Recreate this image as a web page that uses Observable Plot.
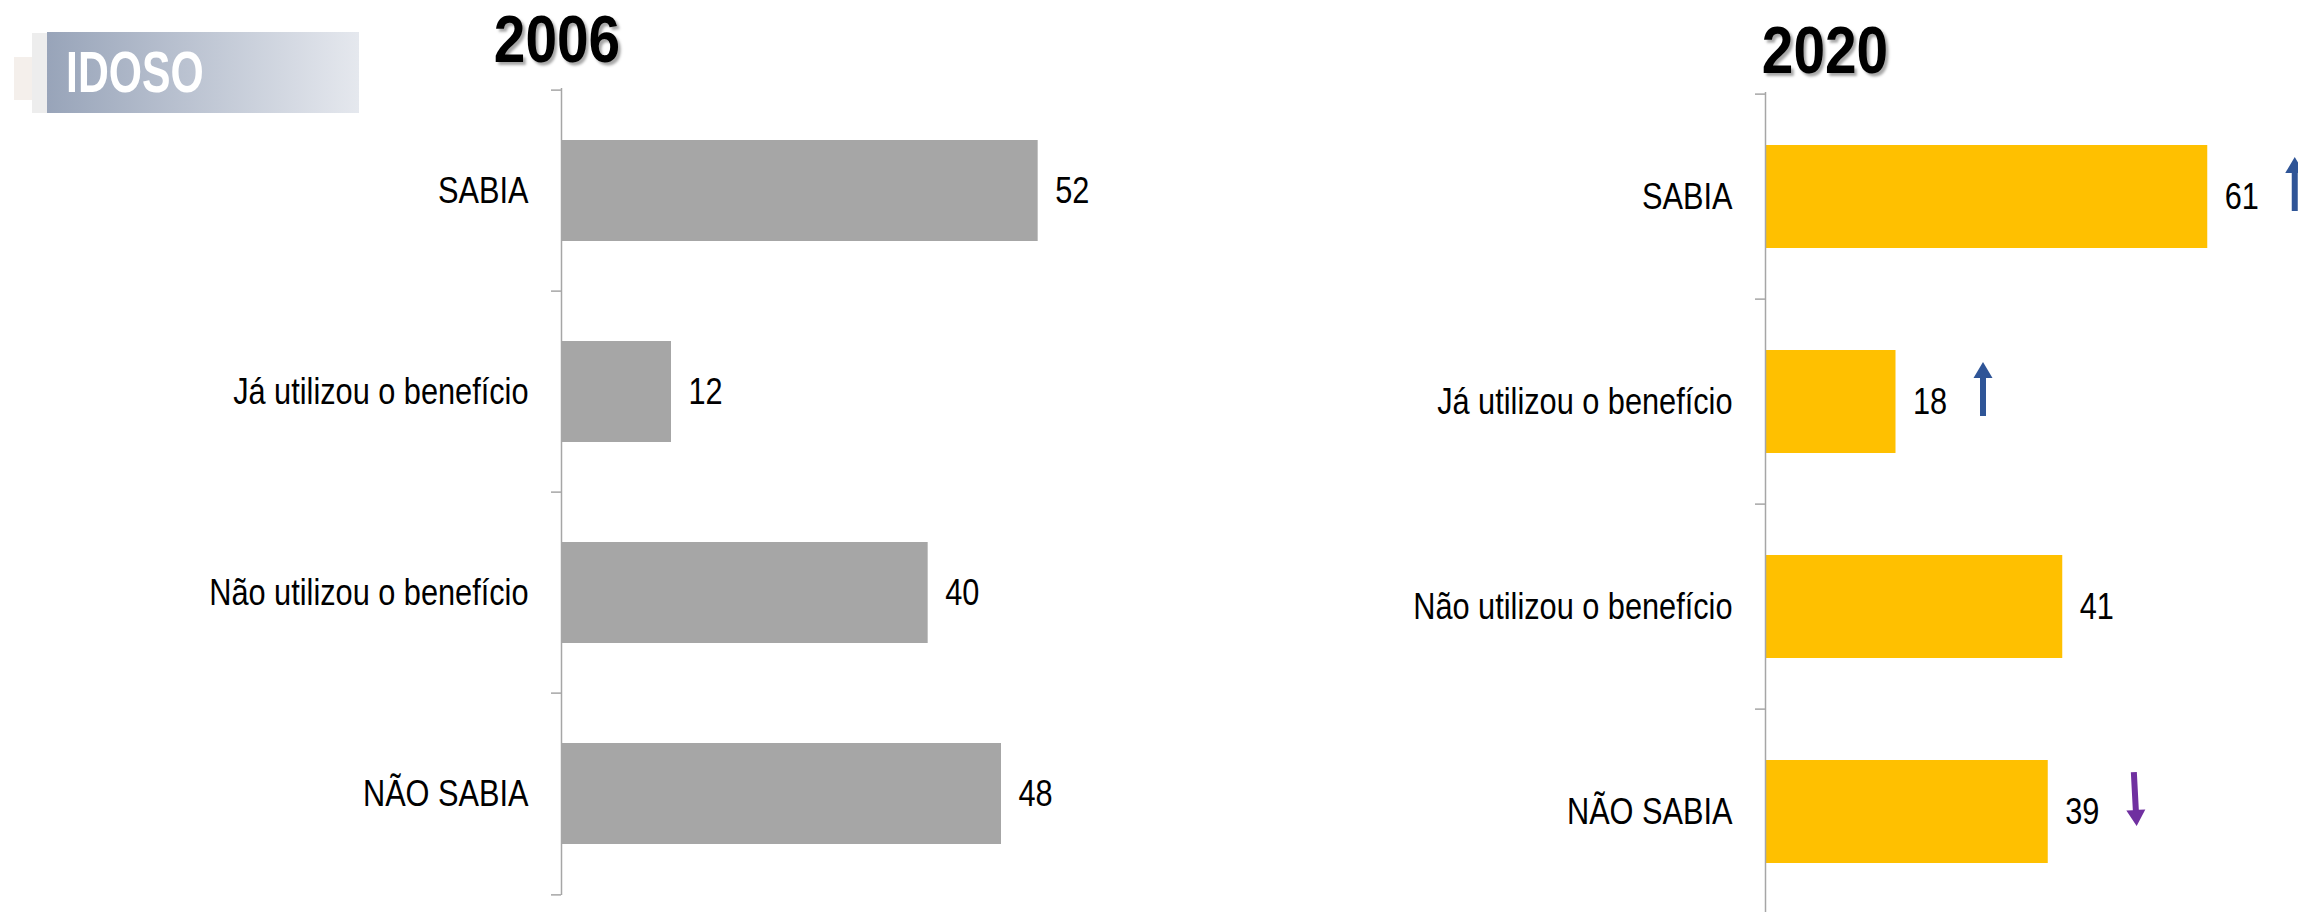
<!DOCTYPE html>
<html>
<head>
<meta charset="utf-8">
<script src="https://cdn.jsdelivr.net/npm/d3@7"></script>
<script src="https://cdn.jsdelivr.net/npm/@observablehq/plot@0.6"></script>
<style>
  html, body { margin: 0; padding: 0; background: #fff; width: 2298px; height: 912px; overflow: hidden; }
  #page { position: relative; width: 2298px; height: 912px; overflow: hidden; }
  .sans { font-family: "Liberation Sans", Arial, sans-serif; }
  .year { position: absolute; font-weight: bold; font-size: 66px; line-height: 66px; color: #000;
          text-shadow: 3px 3px 3px rgba(0,0,0,0.35); transform: translateX(-50%) scaleX(0.86); white-space: nowrap; }
  #badge { position: absolute; left: 47px; top: 32px; width: 312px; height: 81px;
           background: linear-gradient(to right, #98A4B9, #E5E8EE); display: flex; align-items: center; }
  #badge span { color: #fff; font-weight: bold; font-size: 57px; margin-left: 19px; line-height: 1;
                display: inline-block; transform: scaleX(0.75); transform-origin: left center; }
  #deco1 { position: absolute; left: 14px; top: 57px; width: 33px; height: 43px; background: #F4EFEB; }
  #deco2 { position: absolute; left: 32px; top: 33px; width: 15px; height: 80px; background: #EDEDED; }
  .chart { position: absolute; top: 0; }
</style>
</head>
<body>
<div id="page">
  <div id="deco1"></div>
  <div id="deco2"></div>
  <div id="badge" class="sans"><span>IDOSO</span></div>
  <div id="t1" class="year sans"></div>
  <div id="t2" class="year sans"></div>
  <div id="c1" class="chart" style="left:0px"></div>
  <div id="c2" class="chart" style="left:1150px"></div>
</div>
<script>
// ---- data ----
const badgeLabel = "IDOSO";
const years = ["2006", "2020"];
const categories = ["SABIA", "Já utilizou o benefício", "Não utilizou o benefício", "NÃO SABIA"];
const values2006 = [52, 12, 40, 48];
const values2020 = [61, 18, 41, 39];
const trend2020 = ["up", "up", null, "down"];

const fontFamily = '"Liberation Sans", Arial, sans-serif';
const narrowFactor = 0.83;

document.querySelector("#badge span").textContent = badgeLabel;

const filledArrow = {
  draw(ctx, l) {
    const sw = 3, hw = 9.5, hl = 16;
    ctx.moveTo(-sw, 0);
    ctx.lineTo(-sw, -(l - hl));
    ctx.lineTo(-hw, -(l - hl));
    ctx.lineTo(0, -l);
    ctx.lineTo(hw, -(l - hl));
    ctx.lineTo(sw, -(l - hl));
    ctx.lineTo(sw, 0);
    ctx.closePath();
  }
};

function makeChart({values, trends, fill, width, height, marginLeft, marginRight, marginTop, marginBottom, xmax}) {
  const data = categories.map((c, i) => ({category: c, value: values[i], trend: trends ? trends[i] : null}));
  const step = (height - marginTop - marginBottom) / categories.length;
  const axisColor = "#A6A6A6";
  const marks = [
    Plot.barX(data, {x: "value", y: "category", fill}),
    Plot.ruleX([0], {stroke: axisColor, strokeWidth: 1.5}),
    Plot.axisY(categories, {tickSize: 10, fill: "none", stroke: axisColor, strokeWidth: 1.5, dy: -step / 2}),
    Plot.axisY([categories[categories.length - 1]], {tickSize: 10, fill: "none", stroke: axisColor, strokeWidth: 1.5, dy: step / 2}),
    Plot.axisY(categories, {tickSize: 0, tickPadding: 33, fontSize: 37, fill: "#000", label: null}),
    Plot.text(data, {x: "value", y: "category", text: d => String(d.value), dx: 17, textAnchor: "start", fontSize: 37, fill: "#000"})
  ];
  if (trends) {
    const arrows = data.filter(d => d.trend);
    marks.push(Plot.vector(arrows, {
      x: "value", y: "category", dx: 87, dy: -13,
      length: 54, anchor: "middle",
      rotate: d => d.trend === "up" ? 0 : 177,
      shape: filledArrow,
      fill: d => d.trend === "up" ? "#2F5597" : "#7030A0",
      stroke: "none"
    }));
  }
  return Plot.plot({
    width, height, marginLeft, marginRight, marginTop, marginBottom,
    style: {fontFamily, fontSize: "37px", color: "#000", background: "transparent", maxWidth: "none", overflow: "visible"},
    x: {domain: [0, xmax], axis: null},
    y: {domain: categories, paddingInner: 0.5, paddingOuter: 0.25, axis: null, label: null},
    marks
  });
}

function narrowText(svg) {
  d3.select(svg).selectAll("text").each(function () {
    const w = this.getComputedTextLength();
    if (w > 0) {
      this.setAttribute("textLength", (w * narrowFactor).toFixed(2));
      this.setAttribute("lengthAdjust", "spacingAndGlyphs");
    }
  });
}

const svg1 = makeChart({
  values: values2006, trends: null, fill: "#A6A6A6",
  width: 1150, height: 912, marginLeft: 561, marginRight: 39, marginTop: 88, marginBottom: 17, xmax: 60
});
document.getElementById("c1").append(svg1);
narrowText(svg1);

const svg2 = makeChart({
  values: values2020, trends: trend2020, fill: "#FFC000",
  width: 1148, height: 920, marginLeft: 615, marginRight: 25.5, marginTop: 92, marginBottom: 5, xmax: 70
});
document.getElementById("c2").append(svg2);
narrowText(svg2);

const t1 = document.getElementById("t1");
t1.textContent = years[0];
t1.style.left = "557px"; t1.style.top = "6px";
const t2 = document.getElementById("t2");
t2.textContent = years[1];
t2.style.left = "1825px"; t2.style.top = "17px";
</script>
</body>
</html>
